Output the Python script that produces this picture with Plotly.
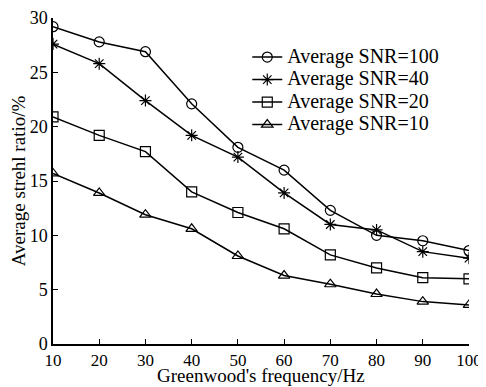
import plotly.graph_objects as go

freq = [10, 20, 30, 40, 50, 60, 70, 80, 90, 100]
snr100 = [29.2, 27.8, 26.9, 22.1, 18.1, 16.0, 12.3, 10.0, 9.5, 8.6]
snr40 = [27.6, 25.8, 22.4, 19.2, 17.2, 13.9, 11.0, 10.5, 8.5, 7.9]
snr20 = [20.9, 19.2, 17.7, 14.0, 12.1, 10.6, 8.2, 7.0, 6.1, 6.0]
snr10 = [15.7, 13.9, 11.9, 10.6, 8.1, 6.3, 5.5, 4.6, 3.9, 3.6]
names = ["Average SNR=100", "Average SNR=40", "Average SNR=20", "Average SNR=10"]
symbols = ["circle-open", "asterisk-open", "square-open", "triangle-up-open"]
x_title = "Greenwood's frequency/Hz"
y_title = "Average strehl ratio/%"

serif = "Liberation Serif, Times New Roman, serif"

fig = go.Figure()
for ys, nm, sym in zip([snr100, snr40, snr20, snr10], names, symbols):
    fig.add_trace(go.Scatter(
        x=freq, y=ys, name='<span style="font-size:20px">' + nm + '</span>',
        mode="lines+markers",
        line=dict(color="black", width=1.5),
        marker=dict(symbol=sym, size=10, color="black", line=dict(color="black", width=1.2)),
    ))

# page body has an 8px default margin, so the figure is sized to fit the 486x387 window
fig.update_layout(
    width=478, height=379,
    margin=dict(l=45, r=17, t=10, b=43, autoexpand=False),
    plot_bgcolor="white", paper_bgcolor="white",
    font=dict(family=serif, size=17, color="black"),
    showlegend=True,
    legend=dict(x=0.467, y=0.93, xanchor="left", yanchor="top", bgcolor="rgba(0,0,0,0)",
                font=dict(family=serif, size=15, color="black"),
                tracegroupgap=0, itemwidth=30),
    annotations=[dict(text=x_title, xref="paper", yref="paper", x=0.5, y=-0.058,
                      xanchor="center", yanchor="top", showarrow=False,
                      font=dict(family=serif, size=19, color="black"))],
)
fig.update_xaxes(
    range=[10, 100], tickvals=freq, ticks="inside", ticklen=5, tickcolor="black",
    showline=True, linecolor="black", linewidth=1.5, showgrid=False, zeroline=False,
    tickfont=dict(family=serif, size=17, color="black"), automargin=False,
)
fig.update_yaxes(
    range=[0, 30], tickvals=[0, 5, 10, 15, 20, 25, 30], ticks="inside", ticklen=5, tickcolor="black",
    showline=True, linecolor="black", linewidth=1.5, showgrid=False, zeroline=False,
    tickfont=dict(family=serif, size=18, color="black"), automargin=False,
    title=dict(text=y_title, standoff=2, font=dict(family=serif, size=19, color="black")),
)
fig.write_html("out.html")
